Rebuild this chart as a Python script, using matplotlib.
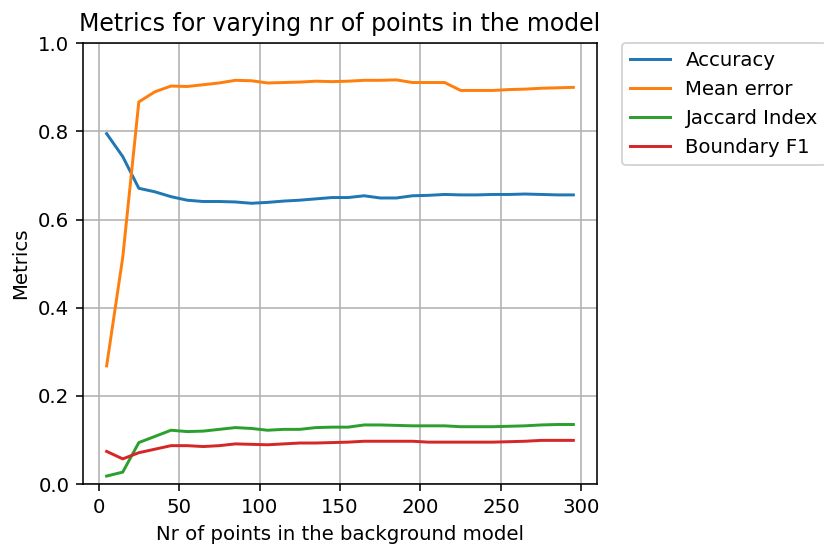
import matplotlib
matplotlib.use('Agg')
import matplotlib.pyplot as plt
import numpy as np

nr_points = np.arange(5, 300, 10)

accuracy = [0.795, 0.743, 0.671, 0.663, 0.652, 0.644, 0.641, 0.641, 0.640, 0.637,
            0.639, 0.642, 0.644, 0.647, 0.650, 0.650, 0.654, 0.649, 0.649, 0.654,
            0.655, 0.657, 0.656, 0.656, 0.657, 0.657, 0.658, 0.657, 0.656, 0.656]
mean_error = [0.268, 0.514, 0.867, 0.890, 0.903, 0.902, 0.906, 0.910, 0.916, 0.915,
              0.910, 0.911, 0.912, 0.914, 0.913, 0.914, 0.916, 0.916, 0.917, 0.911,
              0.911, 0.911, 0.893, 0.893, 0.893, 0.895, 0.896, 0.898, 0.899, 0.900]
jaccard = [0.018, 0.027, 0.094, 0.108, 0.122, 0.119, 0.120, 0.124, 0.128, 0.126,
           0.122, 0.124, 0.124, 0.128, 0.129, 0.129, 0.134, 0.134, 0.133, 0.132,
           0.132, 0.132, 0.130, 0.130, 0.130, 0.131, 0.132, 0.134, 0.135, 0.135]
boundary_f1 = [0.074, 0.057, 0.071, 0.079, 0.087, 0.087, 0.085, 0.087, 0.091, 0.090,
               0.089, 0.091, 0.093, 0.093, 0.094, 0.095, 0.097, 0.097, 0.097, 0.097,
               0.095, 0.095, 0.095, 0.095, 0.095, 0.096, 0.097, 0.099, 0.099, 0.099]

dpi = 142
fig = plt.figure(figsize=(824/dpi, 544/dpi), dpi=dpi)
ax = fig.add_axes([83.3/824, 60/544, 513.4/824, 440.7/544])

ax.plot(nr_points, accuracy, label='Accuracy')
ax.plot(nr_points, mean_error, label='Mean error')
ax.plot(nr_points, jaccard, label='Jaccard Index')
ax.plot(nr_points, boundary_f1, label='Boundary F1')

ax.set_ylim(0, 1)
ax.grid()
ax.set_title('Metrics for varying nr of points in the model')
ax.set_xlabel('Nr of points in the background model')
ax.set_ylabel('Metrics')
ax.legend(bbox_to_anchor=(1.05, 1), loc='upper left', borderaxespad=0.)

fig.savefig('out.png', dpi=dpi)
